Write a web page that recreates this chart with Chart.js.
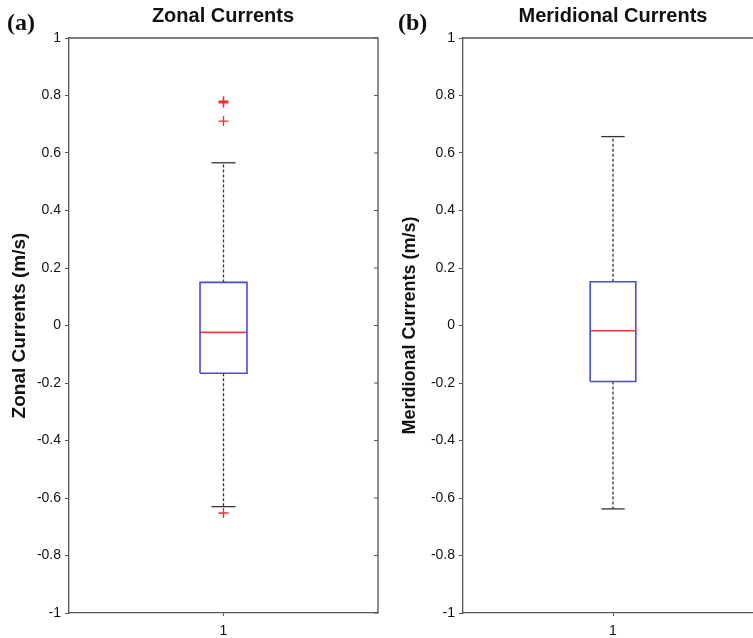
<!DOCTYPE html>
<html>
<head>
<meta charset="utf-8">
<script src="https://cdn.jsdelivr.net/npm/chart.js@4.4.1/dist/chart.umd.min.js"></script>
<style>
  html, body { margin: 0; padding: 0; background: #fff; overflow: hidden; width: 753px; height: 638px; }
  .panel { position: absolute; top: 0; }
  .lbl { position: absolute; font-family: "Liberation Serif", "DejaVu Serif", serif; font-weight: bold; font-size: 24px; color: #111; line-height: 1; }
  .ttl { position: absolute; font-family: "Liberation Sans", Arial, sans-serif; font-weight: bold; font-size: 20px; color: #111; transform: translateX(-50%); white-space: nowrap; line-height: 1; }
</style>
</head>
<body>
<div class="panel" style="left:0;width:390px;height:638px;"><canvas id="c1"></canvas></div>
<div class="panel" style="left:388px;width:387px;height:638px;"><canvas id="c2"></canvas></div>
<div class="lbl" style="left:7px;top:10px;">(a)</div>
<div class="lbl" style="left:398px;top:10px;">(b)</div>
<div class="ttl" style="left:223px;top:5px;">Zonal Currents</div>
<div class="ttl" style="left:613px;top:5px;">Meridional Currents</div>
<script>
// ---- data ----
const panelTitles = ['Zonal Currents', 'Meridional Currents'];
const axisTitles = ['Zonal Currents (m/s)', 'Meridional Currents (m/s)'];
const xCategories = ['1'];
const q1 = [-0.166, -0.195];
const median = [-0.024, -0.018];
const q3 = [0.150, 0.152];
const whiskerLow = [-0.630, -0.638];
const whiskerHigh = [0.566, 0.657];
const zonalOutliers = [0.780, 0.775, 0.711, -0.652];
const meridionalOutliers = [];
const yTicks = [-1, -0.8, -0.6, -0.4, -0.2, 0, 0.2, 0.4, 0.6, 0.8, 1];

const BOX_HALF = 0.076;
const CAP_HALF = 0.039;
const POS = 1;

const framePlugin = {
  id: 'frame',
  afterDatasetsDraw(chart) {
    const a = chart.chartArea, ctx = chart.ctx;
    ctx.save();
    ctx.strokeStyle = '#555';
    ctx.lineWidth = 1.3;
    ctx.beginPath();
    ctx.moveTo(a.left, a.top); ctx.lineTo(a.right, a.top); ctx.lineTo(a.right, a.bottom);
    ctx.stroke();
    const ys = chart.scales.y;
    ctx.lineWidth = 1;
    ys.ticks.forEach(t => {
      const py = ys.getPixelForValue(t.value);
      ctx.beginPath(); ctx.moveTo(a.right, py); ctx.lineTo(a.right - 4, py); ctx.stroke();
    });
    ctx.restore();
  }
};

function makeChart(id, i, outliers, yAxisWidth, titlePad, titleSize) {
  const datasets = [
    { // box
      data: [
        {x: POS - BOX_HALF, y: q1[i]}, {x: POS + BOX_HALF, y: q1[i]},
        {x: POS + BOX_HALF, y: q3[i]}, {x: POS - BOX_HALF, y: q3[i]},
        {x: POS - BOX_HALF, y: q1[i]}
      ],
      borderColor: '#4a4ad6', borderWidth: 1.6, pointRadius: 0, fill: false
    },
    { // median
      data: [{x: POS - BOX_HALF, y: median[i]}, {x: POS + BOX_HALF, y: median[i]}],
      borderColor: '#f03c3c', borderWidth: 1.6, pointRadius: 0
    },
    { // upper whisker
      data: [{x: POS, y: q3[i]}, {x: POS, y: whiskerHigh[i]}],
      borderColor: '#333', borderWidth: 1.3, borderDash: [3, 2], pointRadius: 0
    },
    { // lower whisker
      data: [{x: POS, y: q1[i]}, {x: POS, y: whiskerLow[i]}],
      borderColor: '#333', borderWidth: 1.3, borderDash: [3, 2], pointRadius: 0
    },
    { // upper cap
      data: [{x: POS - CAP_HALF, y: whiskerHigh[i]}, {x: POS + CAP_HALF, y: whiskerHigh[i]}],
      borderColor: '#333', borderWidth: 1.3, pointRadius: 0
    },
    { // lower cap
      data: [{x: POS - CAP_HALF, y: whiskerLow[i]}, {x: POS + CAP_HALF, y: whiskerLow[i]}],
      borderColor: '#333', borderWidth: 1.3, pointRadius: 0
    },
    { // outliers
      type: 'scatter',
      data: outliers.map(v => ({x: POS, y: v})),
      pointStyle: 'cross', pointRadius: 5, borderColor: '#f03030', borderWidth: 1.4, showLine: false
    }
  ];
  return new Chart(document.getElementById(id), {
    type: 'line',
    data: { datasets },
    plugins: [framePlugin],
    options: {
      responsive: true, maintainAspectRatio: false, animation: false,
      layout: { padding: { top: 38, right: 12, left: 0, bottom: 0 } },
      plugins: { legend: { display: false }, tooltip: { enabled: false }, title: { display: false } },
      scales: {
        x: {
          type: 'linear', min: 0.5, max: 1.5,
          afterBuildTicks: s => { s.ticks = xCategories.map(c => ({value: Number(c)})); },
          afterFit: s => { s.height = 25; },
          ticks: { color: '#111', font: { family: 'Liberation Sans', size: 14 }, padding: 7,
                   callback: v => String(v) },
          grid: { drawOnChartArea: false, tickLength: 3, color: '#555' },
          border: { color: '#555', width: 1.3 }
        },
        y: {
          type: 'linear', min: -1, max: 1,
          afterBuildTicks: s => { s.ticks = yTicks.map(v => ({value: v})); },
          afterFit: s => { s.width = yAxisWidth; },
          ticks: { color: '#111', font: { family: 'Liberation Sans', size: 14 }, padding: 4,
                   callback: v => String(Math.round(v * 10) / 10) },
          grid: { drawOnChartArea: false, tickLength: 4, color: '#555' },
          border: { color: '#555', width: 1.3 },
          title: { display: true, text: axisTitles[i], color: '#111',
                   font: { family: 'Liberation Sans', size: titleSize, weight: 'bold' },
                   padding: { top: titlePad, bottom: 0 } }
        }
      }
    }
  });
}

makeChart('c1', 0, zonalOutliers, 69, 8, 19);
makeChart('c2', 1, meridionalOutliers, 75, 11, 18);
</script>
</body>
</html>
